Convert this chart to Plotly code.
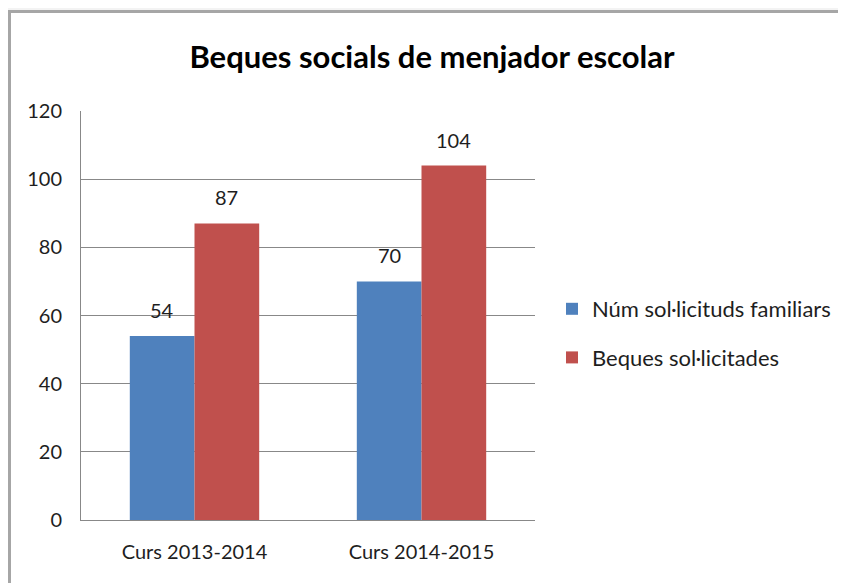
import plotly.graph_objects as go

categories = ["Curs 2013-2014", "Curs 2014-2015"]
sol_familiars = [54, 70]
beques_sol = [87, 104]
series_names = ["Núm sol·licituds familiars", "Beques sol·licitades"]
y_ticks = [0, 20, 40, 60, 80, 100, 120]

OFF = 8  # page body margin
W, H = 846 - OFF, 583 - OFF
L, R, T, B = 81 - OFF, 846 - 535, 111 - OFF, 583 - 520
pw, ph = W - L - R, H - T - B

def px(x):
    return (x - OFF - L) / pw

def py(y):
    return (H - B - (y - OFF)) / ph

FONT = "Lato"
TXT = "#1e1e1e"
BARGAP = 0.43

fig = go.Figure()
for i, (vals, name, col) in enumerate([(sol_familiars, series_names[0], "#4F81BD"),
                                       (beques_sol, series_names[1], "#C0504D")]):
    fig.add_trace(go.Bar(
        x=categories, y=vals, name=name,
        marker=dict(color=col, line=dict(width=0)),
        legendgroup=str(i),
    ))
    offs = (i - 0.5) * (1 - BARGAP) / 2
    for j, v in enumerate(vals):
        fig.add_annotation(x=j + offs, y=v, xref="x", yref="y",
                           text=str(v), showarrow=False,
                           yanchor="middle", xanchor="center", yshift=26,
                           font=dict(size=20, color=TXT, family=FONT))

fig.update_layout(
    width=W, height=H,
    margin=dict(l=L, r=R, t=T, b=B, autoexpand=False),
    paper_bgcolor="#f3f3f3",
    plot_bgcolor="rgba(0,0,0,0)",
    barmode="group", bargap=BARGAP, bargroupgap=0,
    font=dict(family=FONT, size=20, color=TXT),
    title=dict(text="<b>Beques socials de menjador escolar</b>",
               x=(432 - OFF) / W, xref="container", xanchor="center",
               y=1 - (57 - OFF) / H, yref="container", yanchor="middle",
               font=dict(size=31, color="#000000", family=FONT)),
    legend=dict(x=px(552), xanchor="left", y=py(333.5), yanchor="middle",
                font=dict(size=22, color=TXT, family=FONT),
                tracegroupgap=17, bgcolor="rgba(0,0,0,0)",
                itemwidth=30),
    showlegend=True,
    shapes=[dict(type="rect", xref="paper", yref="paper",
                 x0=px(9.5), x1=px(900), y0=py(11.5), y1=py(650),
                 fillcolor="#ffffff", line=dict(color="#a6a6a6", width=3),
                 layer="below")],
)
fig.update_yaxes(range=[0, 120], tickvals=y_ticks, showgrid=True,
                 gridcolor="#888888", gridwidth=1,
                 showline=True, linecolor="#888888", linewidth=1,
                 zeroline=False, ticks="", ticklabelstandoff=14,
                 tickfont=dict(size=20, color=TXT))
fig.update_xaxes(showline=True, linecolor="#888888", linewidth=1,
                 ticks="", ticklabelstandoff=14,
                 tickfont=dict(size=20, color=TXT))

fig.write_html("out.html")
